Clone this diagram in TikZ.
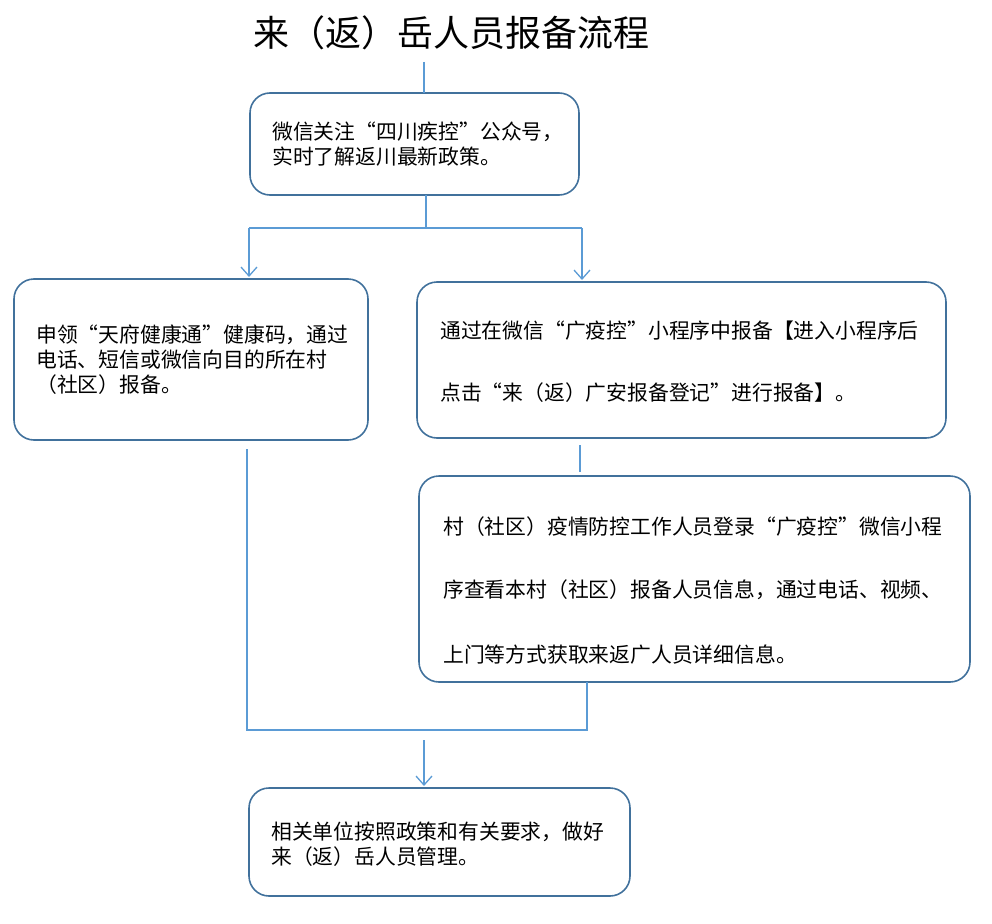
\documentclass[tikz,border=0pt]{standalone}
\usepackage{fontspec}
\setmainfont{Noto Sans CJK SC}
\usetikzlibrary{arrows.meta}
\definecolor{bx}{HTML}{41719C}
\definecolor{ln}{HTML}{5B9BD5}
\begin{document}
\begin{tikzpicture}[x=1pt,y=-1pt,
 box/.style={draw=bx,line width=1.6pt,rounded corners=20pt},
 txt/.style={anchor=west,inner sep=0pt,font=\fontsize{20.8}{25}\selectfont},
 con/.style={draw=ln,line width=1.5pt},
 arr/.style={con,-{Straight Barb[length=9pt,width=16pt,line width=1.3pt]}}]
\useasboundingbox (0,0) rectangle (992,923);
\node[inner sep=0pt,font=\fontsize{36}{40}\selectfont] (title) at (451,33) {来（返）岳人员报备流程};
\draw[box] (250,93) rectangle (579,195) coordinate (b1);
\draw[box] (14,279) rectangle (368,440);
\draw[box] (417,282) rectangle (946,438);
\draw[box] (419,476) rectangle (970,682);
\draw[box] (249,788) rectangle (630,896);
\node[txt] (t1a) at (272,132) {微信关注“四川疾控”公众号，};
\node[txt] (t1b) at (272,157) {实时了解返川最新政策。};
\node[txt] (t2a) at (36,335) {申领“天府健康通”健康码，通过};
\node[txt] (t2b) at (36,360) {电话、短信或微信向目的所在村};
\node[txt] (t2c) at (36,385) {（社区）报备。};
\node[txt] (t3a) at (440,331) {通过在微信“广疫控”小程序中报备【进入小程序后};
\node[txt] (t3b) at (440,393) {点击“来（返）广安报备登记”进行报备】。};
\node[txt] (t4a) at (443,527) {村（社区）疫情防控工作人员登录“广疫控”微信小程};
\node[txt] (t4b) at (443,590) {序查看本村（社区）报备人员信息，通过电话、视频、};
\node[txt] (t4c) at (443,655) {上门等方式获取来返广人员详细信息。};
\node[txt] (t5a) at (271,832) {相关单位按照政策和有关要求，做好};
\node[txt] (t5b) at (271,857) {来（返）岳人员管理。};
\coordinate (c0) at (424,62); \coordinate (c1) at (424,93);
\draw[con] (c0) -- (c1);
\coordinate (s1) at (426,195); \coordinate (s2) at (426,228);
\coordinate (l1) at (249,228); \coordinate (r1) at (582,228);
\coordinate (l2) at (249,277); \coordinate (r2) at (582,280);
\draw[con] (s1) -- (s2); \draw[con] (l1) -- (r1);
\draw[arr] (l1) -- (l2); \draw[arr] (r1) -- (r2);
\coordinate (m1) at (580,445); \coordinate (m2) at (580,472);
\draw[con] (m1) -- (m2);
\coordinate (p1) at (247,449); \coordinate (p2) at (247,730);
\coordinate (q1) at (587,682); \coordinate (q2) at (587,730);
\draw[con] (p1) -- (p2) -- (q2) -- (q1);
\coordinate (a1) at (424,740); \coordinate (a2) at (424,786);
\draw[arr] (a1) -- (a2);
\end{tikzpicture}
\end{document}
